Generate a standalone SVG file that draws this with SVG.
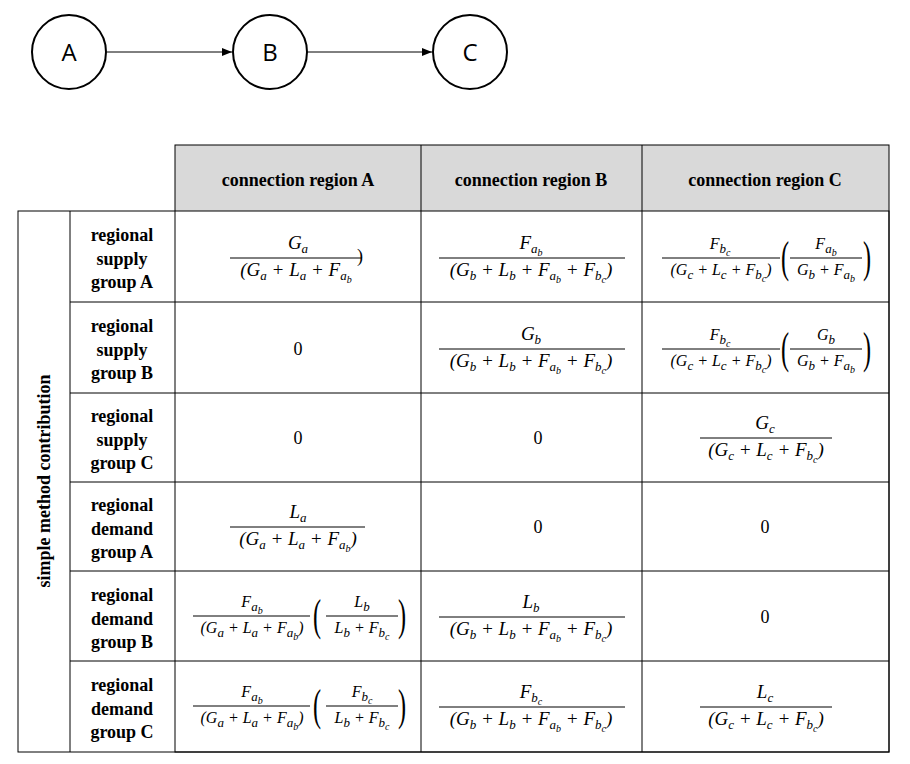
<svg xmlns="http://www.w3.org/2000/svg" width="910" height="764" viewBox="0 0 910 764">
<style>
.c{fill:#fff;stroke:#000;stroke-width:2}
.lt{font-family:"Open Sans","Liberation Sans",sans-serif;font-size:24px;text-anchor:middle}
.g{stroke:#000;stroke-width:1}
.h{font-family:"Liberation Serif",serif;font-weight:bold;font-size:18px;text-anchor:middle}
.m{font-family:"Liberation Serif",serif;font-style:italic;font-size:19px;text-anchor:middle}
.m2{font-family:"Liberation Serif",serif;font-style:italic;font-size:16px;text-anchor:middle}
.n{font-family:"Liberation Serif",serif;font-size:18px;text-anchor:middle}
.p{font-family:"Liberation Serif",serif;font-size:44px;text-anchor:middle}
.s{font-size:13px}
.ss{font-size:10px}
.fl{stroke:#000;stroke-width:1}
</style>
<defs><marker id="ar" markerWidth="10" markerHeight="8" refX="10" refY="4" orient="auto" markerUnits="userSpaceOnUse"><path d="M0,0 L10,4 L0,8 z" fill="#000"/></marker></defs>
<g id="connectors">
<line class="g" x1="107" y1="52" x2="232" y2="52" marker-end="url(#ar)"/>
<line class="g" x1="307" y1="52" x2="432" y2="52" marker-end="url(#ar)"/>
</g>
<g id="A"><circle class="c" cx="69" cy="52" r="37"/><text class="lt" x="69" y="61">A</text></g>
<g id="B"><circle class="c" cx="270" cy="52" r="37"/><text class="lt" x="270" y="61">B</text></g>
<g id="C"><circle class="c" cx="470" cy="52" r="37"/><text class="lt" x="470" y="61">C</text></g>
<g id="table">
<rect x="175" y="145" width="714" height="66" fill="#d9d9d9"/>
<g class="g" fill="none">
<rect x="175" y="145" width="714" height="607"/>
<rect x="18" y="211" width="871" height="541"/>
<line x1="70" y1="211" x2="70" y2="752"/>
<line x1="421" y1="145" x2="421" y2="752"/>
<line x1="642" y1="145" x2="642" y2="752"/>
<line x1="70" y1="302" x2="889" y2="302"/>
<line x1="70" y1="393" x2="889" y2="393"/>
<line x1="70" y1="482" x2="889" y2="482"/>
<line x1="70" y1="571" x2="889" y2="571"/>
<line x1="70" y1="661" x2="889" y2="661"/>
</g>
<text class="h" x="298" y="186">connection region A</text>
<text class="h" x="531" y="186">connection region B</text>
<text class="h" x="765" y="186">connection region C</text>
<text class="h" transform="translate(50,481) rotate(-90)">simple method contribution</text>
<g class="h">
<text x="122" y="241">regional</text><text x="122" y="265">supply</text><text x="122" y="288">group A</text>
<text x="122" y="332">regional</text><text x="122" y="356">supply</text><text x="122" y="379">group B</text>
<text x="122" y="422">regional</text><text x="122" y="446">supply</text><text x="122" y="469">group C</text>
<text x="122" y="511">regional</text><text x="122" y="535">demand</text><text x="122" y="558">group A</text>
<text x="122" y="601">regional</text><text x="122" y="625">demand</text><text x="122" y="648">group B</text>
<text x="122" y="691">regional</text><text x="122" y="715">demand</text><text x="122" y="738">group C</text>
</g>
<g class="n">
<text x="298" y="355">0</text><text x="298" y="444">0</text><text x="538" y="444">0</text>
<text x="538" y="533">0</text><text x="765" y="533">0</text><text x="765" y="623">0</text>
</g>
</g>
<g id="formulas">
<!-- row1 -->
<text class="m" x="298" y="249">G<tspan class="s" dy="4">a</tspan></text>
<line class="fl" x1="230" y1="258" x2="362" y2="258"/>
<text class="n" x="360" y="262">)</text>
<text class="m" x="296" y="276">(G<tspan class="s" dy="4">a</tspan><tspan dy="-4"> + L</tspan><tspan class="s" dy="4">a</tspan><tspan dy="-4"> + F</tspan><tspan class="s" dy="4">a</tspan><tspan class="ss" dy="3">b</tspan></text>

<text class="m" x="531" y="249">F<tspan class="s" dy="4">a</tspan><tspan class="ss" dy="3">b</tspan></text>
<line class="fl" x1="439" y1="258" x2="625" y2="258"/>
<text class="m" x="531" y="276">(G<tspan class="s" dy="4">b</tspan><tspan dy="-4"> + L</tspan><tspan class="s" dy="4">b</tspan><tspan dy="-4"> + F</tspan><tspan class="s" dy="4">a</tspan><tspan class="ss" dy="3">b</tspan><tspan dy="-7"> + F</tspan><tspan class="s" dy="4">b</tspan><tspan class="ss" dy="3">c</tspan><tspan dy="-7">)</tspan></text>

<text class="m2" x="720" y="249">F<tspan class="s" dy="4">b</tspan><tspan class="ss" dy="3">c</tspan></text>
<line class="fl" x1="662" y1="258" x2="780" y2="258"/>
<text class="m2" x="721" y="275">(G<tspan class="s" dy="4">c</tspan><tspan dy="-4"> + L</tspan><tspan class="s" dy="4">c</tspan><tspan dy="-4"> + F</tspan><tspan class="s" dy="4">b</tspan><tspan class="ss" dy="3">c</tspan><tspan dy="-7">)</tspan></text>
<text class="p" transform="translate(785,272) scale(0.55,1)">(</text>
<text class="m2" x="826" y="249">F<tspan class="s" dy="4">a</tspan><tspan class="ss" dy="3">b</tspan></text>
<line class="fl" x1="790" y1="258" x2="862" y2="258"/>
<text class="m2" x="826" y="275">G<tspan class="s" dy="4">b</tspan><tspan dy="-4"> + F</tspan><tspan class="s" dy="4">a</tspan><tspan class="ss" dy="3">b</tspan></text>
<text class="p" transform="translate(867,272) scale(0.55,1)">)</text>
<!-- row2 -->
<text class="m" x="531" y="340">G<tspan class="s" dy="4">b</tspan></text>
<line class="fl" x1="439" y1="349" x2="625" y2="349"/>
<text class="m" x="531" y="367">(G<tspan class="s" dy="4">b</tspan><tspan dy="-4"> + L</tspan><tspan class="s" dy="4">b</tspan><tspan dy="-4"> + F</tspan><tspan class="s" dy="4">a</tspan><tspan class="ss" dy="3">b</tspan><tspan dy="-7"> + F</tspan><tspan class="s" dy="4">b</tspan><tspan class="ss" dy="3">c</tspan><tspan dy="-7">)</tspan></text>
<text class="m2" x="720" y="340">F<tspan class="s" dy="4">b</tspan><tspan class="ss" dy="3">c</tspan></text>
<line class="fl" x1="662" y1="349" x2="780" y2="349"/>
<text class="m2" x="721" y="366">(G<tspan class="s" dy="4">c</tspan><tspan dy="-4"> + L</tspan><tspan class="s" dy="4">c</tspan><tspan dy="-4"> + F</tspan><tspan class="s" dy="4">b</tspan><tspan class="ss" dy="3">c</tspan><tspan dy="-7">)</tspan></text>
<text class="p" transform="translate(785,363) scale(0.55,1)">(</text>
<text class="m2" x="826" y="340">G<tspan class="s" dy="4">b</tspan></text>
<line class="fl" x1="790" y1="349" x2="862" y2="349"/>
<text class="m2" x="826" y="366">G<tspan class="s" dy="4">b</tspan><tspan dy="-4"> + F</tspan><tspan class="s" dy="4">a</tspan><tspan class="ss" dy="3">b</tspan></text>
<text class="p" transform="translate(867,363) scale(0.55,1)">)</text>
<!-- row3 -->
<text class="m" x="765" y="429">G<tspan class="s" dy="4">c</tspan></text>
<line class="fl" x1="700" y1="438" x2="832" y2="438"/>
<text class="m" x="766" y="456">(G<tspan class="s" dy="4">c</tspan><tspan dy="-4"> + L</tspan><tspan class="s" dy="4">c</tspan><tspan dy="-4"> + F</tspan><tspan class="s" dy="4">b</tspan><tspan class="ss" dy="3">c</tspan><tspan dy="-7">)</tspan></text>
<!-- row4 -->
<text class="m" x="298" y="518">L<tspan class="s" dy="4">a</tspan></text>
<line class="fl" x1="230" y1="527" x2="365" y2="527"/>
<text class="m" x="298" y="545">(G<tspan class="s" dy="4">a</tspan><tspan dy="-4"> + L</tspan><tspan class="s" dy="4">a</tspan><tspan dy="-4"> + F</tspan><tspan class="s" dy="4">a</tspan><tspan class="ss" dy="3">b</tspan><tspan dy="-7">)</tspan></text>
<!-- row5 -->
<text class="m2" x="252" y="607">F<tspan class="s" dy="4">a</tspan><tspan class="ss" dy="3">b</tspan></text>
<line class="fl" x1="193" y1="616" x2="310" y2="616"/>
<text class="m2" x="252" y="633">(G<tspan class="s" dy="4">a</tspan><tspan dy="-4"> + L</tspan><tspan class="s" dy="4">a</tspan><tspan dy="-4"> + F</tspan><tspan class="s" dy="4">a</tspan><tspan class="ss" dy="3">b</tspan><tspan dy="-7">)</tspan></text>
<text class="p" transform="translate(317,630) scale(0.55,1)">(</text>
<text class="m2" x="362" y="607">L<tspan class="s" dy="4">b</tspan></text>
<line class="fl" x1="326" y1="616" x2="398" y2="616"/>
<text class="m2" x="362" y="633">L<tspan class="s" dy="4">b</tspan><tspan dy="-4"> + F</tspan><tspan class="s" dy="4">b</tspan><tspan class="ss" dy="3">c</tspan></text>
<text class="p" transform="translate(402,630) scale(0.55,1)">)</text>
<text class="m" x="531" y="608">L<tspan class="s" dy="4">b</tspan></text>
<line class="fl" x1="439" y1="617" x2="625" y2="617"/>
<text class="m" x="531" y="635">(G<tspan class="s" dy="4">b</tspan><tspan dy="-4"> + L</tspan><tspan class="s" dy="4">b</tspan><tspan dy="-4"> + F</tspan><tspan class="s" dy="4">a</tspan><tspan class="ss" dy="3">b</tspan><tspan dy="-7"> + F</tspan><tspan class="s" dy="4">b</tspan><tspan class="ss" dy="3">c</tspan><tspan dy="-7">)</tspan></text>
<!-- row6 -->
<text class="m2" x="252" y="697">F<tspan class="s" dy="4">a</tspan><tspan class="ss" dy="3">b</tspan></text>
<line class="fl" x1="193" y1="706" x2="310" y2="706"/>
<text class="m2" x="252" y="723">(G<tspan class="s" dy="4">a</tspan><tspan dy="-4"> + L</tspan><tspan class="s" dy="4">a</tspan><tspan dy="-4"> + F</tspan><tspan class="s" dy="4">a</tspan><tspan class="ss" dy="3">b</tspan><tspan dy="-7">)</tspan></text>
<text class="p" transform="translate(317,720) scale(0.55,1)">(</text>
<text class="m2" x="362" y="697">F<tspan class="s" dy="4">b</tspan><tspan class="ss" dy="3">c</tspan></text>
<line class="fl" x1="326" y1="706" x2="398" y2="706"/>
<text class="m2" x="362" y="723">L<tspan class="s" dy="4">b</tspan><tspan dy="-4"> + F</tspan><tspan class="s" dy="4">b</tspan><tspan class="ss" dy="3">c</tspan></text>
<text class="p" transform="translate(402,720) scale(0.55,1)">)</text>
<text class="m" x="531" y="698">F<tspan class="s" dy="4">b</tspan><tspan class="ss" dy="3">c</tspan></text>
<line class="fl" x1="439" y1="707" x2="625" y2="707"/>
<text class="m" x="531" y="725">(G<tspan class="s" dy="4">b</tspan><tspan dy="-4"> + L</tspan><tspan class="s" dy="4">b</tspan><tspan dy="-4"> + F</tspan><tspan class="s" dy="4">a</tspan><tspan class="ss" dy="3">b</tspan><tspan dy="-7"> + F</tspan><tspan class="s" dy="4">b</tspan><tspan class="ss" dy="3">c</tspan><tspan dy="-7">)</tspan></text>
<text class="m" x="765" y="698">L<tspan class="s" dy="4">c</tspan></text>
<line class="fl" x1="700" y1="707" x2="832" y2="707"/>
<text class="m" x="766" y="725">(G<tspan class="s" dy="4">c</tspan><tspan dy="-4"> + L</tspan><tspan class="s" dy="4">c</tspan><tspan dy="-4"> + F</tspan><tspan class="s" dy="4">b</tspan><tspan class="ss" dy="3">c</tspan><tspan dy="-7">)</tspan></text>
</g>
</svg>
